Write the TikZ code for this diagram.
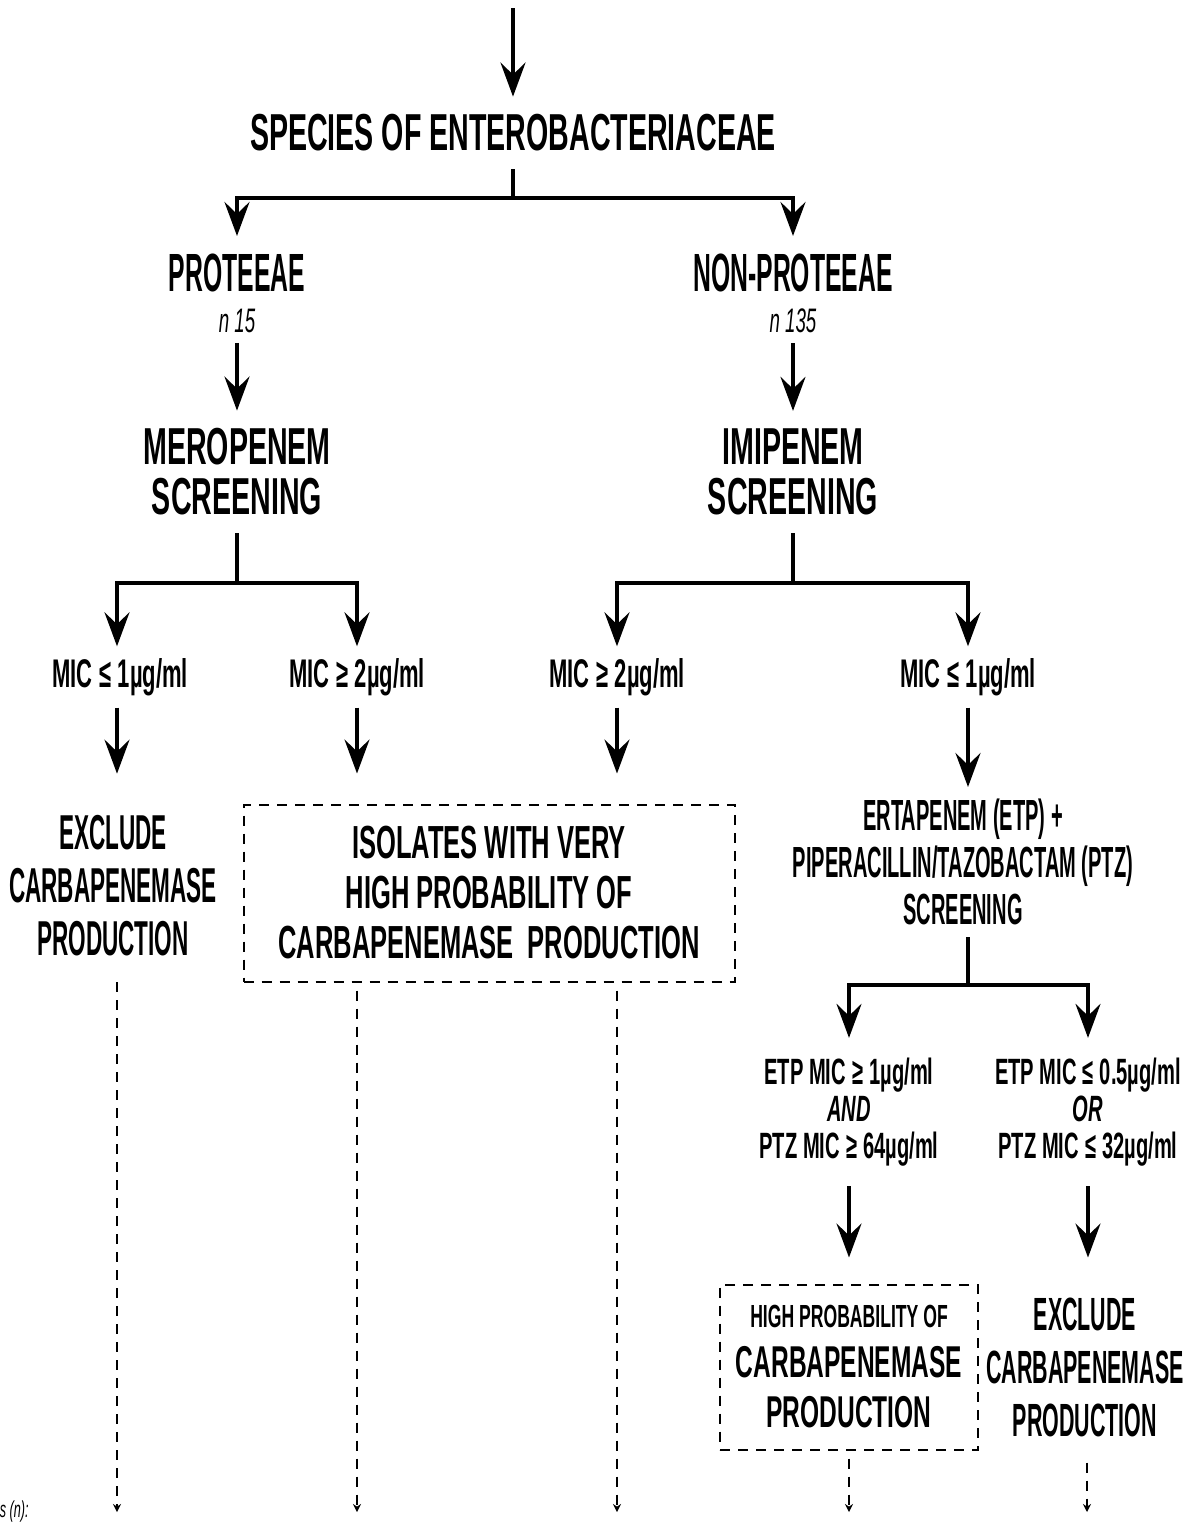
\documentclass[tikz,border=0pt]{standalone}
\usepackage{fontspec}
\setmainfont{Liberation Sans}[FakeStretch=0.55]
\newfontfamily\narrowfont{Liberation Sans}[FakeStretch=0.46]
\usetikzlibrary{arrows.meta}

\begin{document}
\begin{tikzpicture}[x=0.5pt,y=-0.5pt,
    big/.style={align=center, inner sep=0pt, outer sep=9pt, font=\bfseries\fontsize{26}{25}\selectfont},
    group/.style={big, font=\narrowfont\bfseries\fontsize{26.9}{25}\selectfont},
    result/.style={big, font=\narrowfont\bfseries\fontsize{24.5}{26.5}\selectfont},
    mid/.style={align=center, inner sep=0pt, outer sep=6pt, font=\bfseries\fontsize{20}{23.5}\selectfont},
    small/.style={align=center, inner sep=0pt, outer sep=10pt, font=\bfseries\fontsize{18.3}{18.5}\selectfont},
    count/.style={inner sep=0pt, outer sep=5pt, font=\itshape\fontsize{17}{17}\selectfont},
    boxed/.style={draw, line width=1pt, dash pattern=on 5pt off 4pt, align=center, inner sep=0pt,
      font=\bfseries\fontsize{23.2}{25}\selectfont},
    flow/.style={line width=1.8pt, -{Stealth[length=17pt,width=12.5pt,inset=6pt]}},
    branch/.style={line width=1.8pt},
    later/.style={line width=0.7pt, dash pattern=on 5pt off 4pt, shorten <=4pt, -{Stealth[length=4pt,width=4pt]}}
    ]
    \useasboundingbox (0,0) rectangle (1200,1522);

    \coordinate (start) at (513,8);
    \node[big] (species) at (513,133) {SPECIES OF ENTEROBACTERIACEAE};
    \coordinate (fork1) at (513,198);

    \node[group] (proteeae) at (237,273) {PROTEEAE};
    \node[count] (n15) at (237,321) {n 15};
    \node[group] (nonproteeae) at (793,273) {NON-PROTEEAE};
    \node[count] (n135) at (793,321) {n 135};

    \node[big] (meropenem) at (237,472) {MEROPENEM\\SCREENING};
    \node[big] (imipenem) at (793,472) {IMIPENEM\\SCREENING};
    \coordinate (fork2) at (237,583);
    \coordinate (fork3) at (793,583);

    \node[mid] (mic1) at (120,677) {MIC\,≤\,1µg/ml};
    \node[mid] (mic2) at (357,677) {MIC\,≥\,2µg/ml};
    \node[mid] (mic3) at (617,677) {MIC\,≥\,2µg/ml};
    \node[mid] (mic4) at (968,677) {MIC\,≤\,1µg/ml};

    \node[result] (exclude1) at (113,886) {EXCLUDE\\CARBAPENEMASE\\PRODUCTION};
    \node[boxed, minimum width=245.5pt, minimum height=88.5pt] (isolates) at (489,893)
      {ISOLATES WITH VERY\\HIGH PROBABILITY OF\\CARBAPENEMASE\ \ PRODUCTION};
    \node[mid, font=\narrowfont\bfseries\fontsize{21.8}{23.5}\selectfont] (ertapenem) at (963,862)
      {ERTAPENEM (ETP) +\\PIPERACILLIN/TAZOBACTAM (PTZ)\\SCREENING};
    \coordinate (fork4) at (968,985);

    \node[small] (etp1) at (849,1112) {ETP MIC\,≥\,1µg/ml\\\textit{AND}\\PTZ MIC\,≥\,64µg/ml};
    \node[small] (etp2) at (1088,1112) {ETP MIC\,≤\,0.5µg/ml\\\textit{OR}\\PTZ MIC\,≤\,32µg/ml};

    \node[boxed, minimum width=129pt, minimum height=82.5pt, font=\bfseries\fontsize{22.3}{25}\selectfont] (highprob) at (849,1367)
      {{\fontsize{16}{16}\selectfont HIGH PROBABILITY OF}\\CARBAPENEMASE\\PRODUCTION};
    \node[result, font=\narrowfont\bfseries\fontsize{23.3}{26.5}\selectfont] (exclude2) at (1085,1367) {EXCLUDE\\CARBAPENEMASE\\PRODUCTION};

    \coordinate (end1) at (117,1512);
    \coordinate (end2) at (357,1512);
    \coordinate (end3) at (617,1512);
    \coordinate (end4) at (849,1512);
    \coordinate (end5) at (1087,1512);
    \node[anchor=east, inner sep=0pt, font=\itshape\fontsize{11.5}{12}\selectfont] (legend) at (29,1512) {s (n):};

    \draw[flow] (start) -- (species);
    \draw[branch] (species) -- (fork1);
    \draw[flow] (fork1) -| (proteeae);
    \draw[flow] (fork1) -| (nonproteeae);
    \draw[flow] (n15) -- (meropenem);
    \draw[flow] (n135) -- (imipenem);
    %
    \draw[branch] (meropenem) -- (fork2);
    \draw[flow] (fork2) -| (mic1.north -| end1);
    \draw[flow] (fork2) -| (mic2);
    \draw[branch] (imipenem) -- (fork3);
    \draw[flow] (fork3) -| (mic3);
    \draw[flow] (fork3) -| (mic4);
    %
    \draw[flow, shorten >=12pt] (mic1.south -| end1) -- (exclude1.north -| end1);
    \draw[flow, shorten >=15pt] (mic2) -- (mic2 |- isolates.north);
    \draw[flow, shorten >=15pt] (mic3) -- (mic3 |- isolates.north);
    \draw[flow] (mic4) -- (mic4 |- ertapenem.north);
    \draw[branch] (ertapenem.south -| fork4) -- (fork4);
    \draw[flow] (fork4) -| (etp1);
    \draw[flow] (fork4) -| (etp2);
    \draw[flow, shorten >=13pt] (etp1) -- (highprob);
    \draw[flow, shorten >=11pt] (etp2) -- (etp2 |- exclude2.north);
    %
    \draw[later] (exclude1.south -| end1) -- (end1);
    \draw[later] (isolates.south -| end2) -- (end2);
    \draw[later] (isolates.south -| end3) -- (end3);
    \draw[later] (highprob) -- (end4);
    \draw[later] (exclude2.south -| end5) -- (end5);
\end{tikzpicture}
\end{document}
